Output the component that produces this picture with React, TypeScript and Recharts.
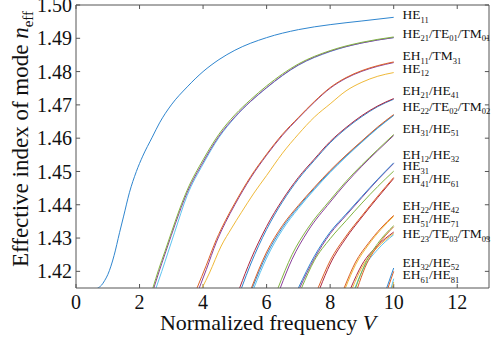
import React from 'react';
import { LineChart, Line, XAxis, YAxis, ReferenceLine, ReferenceDot } from 'recharts';

type Pt = [number, number];

// mode curves: [V, n_eff]
const he11: Pt[] = [[0.68, 1.415], [0.8, 1.4158], [0.9, 1.4172], [1.0, 1.419], [1.2, 1.4248], [1.37, 1.4316], [1.5, 1.4366], [1.68, 1.4436], [1.9, 1.45], [2.1, 1.4546], [2.4, 1.4603], [2.63, 1.4646], [3.0, 1.47], [3.5, 1.4754], [4.0, 1.48], [4.5, 1.4836], [5.0, 1.4864], [6.0, 1.4902], [7.0, 1.4926], [8.0, 1.4941], [9.0, 1.4952], [10.0, 1.4963]];
const he21: Pt[] = [[2.42, 1.415], [2.6, 1.4205], [2.8, 1.426], [3.0, 1.4316], [3.25, 1.4384], [3.5, 1.4444], [4.0, 1.4535], [4.5, 1.4612], [5.0, 1.467], [5.5, 1.4716], [6.0, 1.4757], [7.0, 1.4823], [8.0, 1.4863], [9.0, 1.4888], [10.0, 1.4904]];
const te01: Pt[] = [[2.45, 1.415], [2.6, 1.4195], [2.8, 1.4252], [3.0, 1.4308], [3.25, 1.4376], [3.5, 1.4437], [4.0, 1.4528], [4.5, 1.4606], [5.0, 1.4664], [5.5, 1.4711], [6.0, 1.4752], [7.0, 1.482], [8.0, 1.4861], [9.0, 1.4886], [10.0, 1.4902]];
const tm01: Pt[] = [[2.52, 1.415], [2.7, 1.42], [2.9, 1.4258], [3.1, 1.4316], [3.5, 1.4428], [4.0, 1.4522], [4.5, 1.4602], [5.0, 1.4662], [6.0, 1.4751], [7.0, 1.4819], [8.0, 1.486], [9.0, 1.4886], [10.0, 1.4902]];
const eh11: Pt[] = [[3.81, 1.415], [4.1, 1.4218], [4.42, 1.4296], [4.7, 1.4352], [5.0, 1.4405], [5.5, 1.4485], [6.0, 1.4552], [6.5, 1.4612], [7.0, 1.4662], [7.5, 1.471], [8.0, 1.4752], [8.5, 1.4782], [9.0, 1.4803], [9.5, 1.4818], [10.0, 1.4829]];
const tm31: Pt[] = [[3.88, 1.415], [4.1, 1.4205], [4.42, 1.4288], [4.7, 1.4346], [5.0, 1.44], [5.5, 1.4481], [6.0, 1.4549], [6.5, 1.4609], [7.0, 1.466], [7.5, 1.4708], [8.0, 1.475], [8.5, 1.478], [9.0, 1.4801], [9.5, 1.4816], [10.0, 1.4827]];
const he12: Pt[] = [[3.97, 1.415], [4.2, 1.4195], [4.57, 1.4276], [4.9, 1.433], [5.2, 1.4376], [5.6, 1.4435], [6.0, 1.4488], [6.5, 1.4555], [7.0, 1.4612], [7.5, 1.4663], [8.0, 1.4703], [8.5, 1.4742], [9.0, 1.4768], [9.5, 1.4786], [10.0, 1.4797]];
const eh21: Pt[] = [[5.15, 1.415], [5.5, 1.4235], [6.0, 1.4335], [6.5, 1.4415], [7.0, 1.4482], [7.5, 1.4537], [8.0, 1.459], [8.5, 1.4632], [9.0, 1.4668], [9.5, 1.4697], [10.0, 1.4719]];
const he41: Pt[] = [[5.21, 1.415], [5.5, 1.4222], [6.0, 1.4326], [6.5, 1.4409], [7.0, 1.4477], [7.5, 1.4533], [8.0, 1.4586], [8.5, 1.4629], [9.0, 1.4665], [9.5, 1.4695], [10.0, 1.4717]];
const he22: Pt[] = [[5.52, 1.415], [6.0, 1.4258], [6.5, 1.4338], [7.0, 1.4398], [7.5, 1.4452], [8.0, 1.4503], [8.5, 1.4549], [9.0, 1.4592], [9.5, 1.4634], [10.0, 1.4671]];
const te02: Pt[] = [[5.55, 1.415], [6.0, 1.425], [6.5, 1.4332], [7.0, 1.4394], [7.5, 1.4449], [8.0, 1.45], [8.5, 1.4547], [9.0, 1.459], [9.5, 1.4632], [10.0, 1.4669]];
const tm02: Pt[] = [[5.6, 1.415], [6.0, 1.424], [6.5, 1.4325], [7.0, 1.4389], [7.5, 1.4445], [8.0, 1.4497], [8.5, 1.4544], [9.0, 1.4588], [9.5, 1.463], [10.0, 1.4668]];
const eh31: Pt[] = [[6.36, 1.415], [6.8, 1.425], [7.3, 1.433], [8.0, 1.4414], [8.5, 1.447], [9.0, 1.452], [9.5, 1.4566], [10.0, 1.4611]];
const he51: Pt[] = [[6.43, 1.415], [6.8, 1.4236], [7.3, 1.4321], [8.0, 1.4408], [8.5, 1.4465], [9.0, 1.4516], [9.5, 1.4563], [10.0, 1.4608]];
const eh12: Pt[] = [[7.0, 1.415], [7.5, 1.4245], [8.0, 1.4318], [8.5, 1.4372], [9.0, 1.4425], [9.5, 1.4477], [10.0, 1.4526]];
const he32: Pt[] = [[7.04, 1.415], [7.5, 1.4238], [8.0, 1.4313], [8.5, 1.4368], [9.0, 1.4422], [9.5, 1.4475], [10.0, 1.4524]];
const he31: Pt[] = [[7.1, 1.415], [7.5, 1.4232], [8.0, 1.4298], [8.5, 1.4352], [9.0, 1.4405], [9.5, 1.4455], [10.0, 1.4501]];
const eh41: Pt[] = [[7.62, 1.415], [8.0, 1.4232], [8.5, 1.4306], [9.0, 1.4367], [9.5, 1.4426], [10.0, 1.4482]];
const he61: Pt[] = [[7.68, 1.415], [8.0, 1.4222], [8.5, 1.43], [9.0, 1.4363], [9.5, 1.4422], [10.0, 1.4479]];
const eh22: Pt[] = [[8.44, 1.415], [8.8, 1.4228], [9.2, 1.4284], [9.6, 1.433], [10.0, 1.4368]];
const he42: Pt[] = [[8.48, 1.415], [8.8, 1.422], [9.2, 1.4279], [9.6, 1.4326], [10.0, 1.4365]];
const he23: Pt[] = [[8.65, 1.415], [9.0, 1.422], [9.5, 1.4278], [10.0, 1.4318]];
const te03: Pt[] = [[8.7, 1.415], [9.0, 1.4212], [9.5, 1.4273], [10.0, 1.4314]];
const tm03: Pt[] = [[8.78, 1.415], [9.0, 1.42], [9.5, 1.4266], [10.0, 1.431]];
const eh51: Pt[] = [[8.8, 1.415], [9.1, 1.4222], [9.5, 1.4284], [10.0, 1.4337]];
const he71: Pt[] = [[8.86, 1.415], [9.1, 1.4212], [9.5, 1.4278], [10.0, 1.4334]];
const eh32: Pt[] = [[9.78, 1.415], [10.0, 1.421]];
const he52: Pt[] = [[9.82, 1.415], [10.0, 1.42]];
const eh61: Pt[] = [[9.92, 1.415], [10.0, 1.4178]];
const he81: Pt[] = [[9.95, 1.415], [10.0, 1.4168]];

const curves: { id: string; pts: Pt[] }[] = [
  { id: 'HE11', pts: he11 },
  { id: 'TM01', pts: tm01 }, { id: 'TE01', pts: te01 }, { id: 'HE21', pts: he21 },
  { id: 'TM31', pts: tm31 }, { id: 'EH11', pts: eh11 }, { id: 'HE12', pts: he12 },
  { id: 'HE41', pts: he41 }, { id: 'EH21', pts: eh21 },
  { id: 'TM02', pts: tm02 }, { id: 'TE02', pts: te02 }, { id: 'HE22', pts: he22 },
  { id: 'HE51', pts: he51 }, { id: 'EH31', pts: eh31 },
  { id: 'HE32', pts: he32 }, { id: 'EH12', pts: eh12 }, { id: 'HE31', pts: he31 },
  { id: 'HE61', pts: he61 }, { id: 'EH41', pts: eh41 },
  { id: 'HE42', pts: he42 }, { id: 'EH22', pts: eh22 },
  { id: 'TM03', pts: tm03 }, { id: 'TE03', pts: te03 }, { id: 'HE23', pts: he23 },
  { id: 'HE71', pts: he71 }, { id: 'EH51', pts: eh51 },
  { id: 'HE52', pts: he52 }, { id: 'EH32', pts: eh32 },
  { id: 'HE81', pts: he81 }, { id: 'EH61', pts: eh61 },
];

const lineColor: Record<string, string> = {
  HE11: '#2F86CF',
  HE21: '#82B440', TE01: '#8A3F9A', TM01: '#5EC4F0',
  EH11: '#DC6128', TM31: '#8A3F9A', HE12: '#EFB939',
  EH21: '#AD2840', HE41: '#2F86CF',
  HE22: '#DC6128', TE02: '#2F86CF', TM02: '#5EC4F0',
  EH31: '#82B440', HE51: '#8A3F9A',
  EH12: '#2F86CF', HE32: '#8A3F9A', HE31: '#82B440',
  EH41: '#DC6128', HE61: '#AD2840',
  EH22: '#DC6128', HE42: '#EFB939',
  HE23: '#AD2840', TE03: '#EFB939', TM03: '#5EC4F0',
  EH51: '#82B440', HE71: '#DC6128',
  EH32: '#2F86CF', HE52: '#DC6128',
  EH61: '#5EC4F0', HE81: '#EFB939',
};

const xTicks = [0, 2, 4, 6, 8, 10, 12];
const yTicks = [1.42, 1.43, 1.44, 1.45, 1.46, 1.47, 1.48, 1.49, 1.5];

// mode group labels: [text, subscript] pieces
const labelParts: [string, string][][] = [
  [['HE', '11']],
  [['HE', '21'], ['/TE', '01'], ['/TM', '01']],
  [['EH', '11'], ['/TM', '31']],
  [['HE', '12']],
  [['EH', '21'], ['/HE', '41']],
  [['HE', '22'], ['/TE', '02'], ['/TM', '02']],
  [['EH', '31'], ['/HE', '51']],
  [['EH', '12'], ['/HE', '32']],
  [['HE', '31']],
  [['EH', '41'], ['/HE', '61']],
  [['EH', '22'], ['/HE', '42']],
  [['EH', '51'], ['/HE', '71']],
  [['HE', '23'], ['/TE', '03'], ['/TM', '03']],
  [['EH', '32'], ['/HE', '52']],
  [['EH', '61'], ['/HE', '81']],
];
const labelV = 10.28;
const labelN = [1.4972, 1.4916, 1.4849, 1.4811, 1.4746, 1.4697, 1.4631, 1.4553, 1.4519, 1.4479, 1.44, 1.436, 1.4315, 1.4229, 1.4192];

const serif = 'Liberation Serif, serif';
const axisColor = '#555';

function ModeLabel({ cx, cy, parts }: { cx: number; cy: number; parts: [string, string][] }) {
  return (
    <text x={cx} y={cy + 5} fontFamily={serif} fontSize={13.5} fill="#111">
      {parts.map(([a, s], i) => (
        <React.Fragment key={i}>
          <tspan dy={i ? -3.5 : 0}>{a}</tspan>
          <tspan fontSize={8.5} dy={3.5}>{s}</tspan>
        </React.Fragment>
      ))}
    </text>
  );
}

export default function App() {
  return (
    <div style={{ position: 'absolute', left: 0, top: 0, width: 500, height: 338, background: '#fff' }}>
      <LineChart width={500} height={338} margin={{ top: 5, right: 11, bottom: 0, left: 0 }}>
        <XAxis type="number" dataKey="v" domain={[0, 13]} ticks={xTicks} interval={0} allowDataOverflow
          tickLine={false} tickSize={0} tickMargin={7} height={50}
          axisLine={{ stroke: axisColor }} tick={{ fontFamily: serif, fontSize: 20, fill: '#111' }} />
        <YAxis type="number" domain={[1.415, 1.5]} ticks={yTicks} interval={0} allowDataOverflow width={76}
          tickFormatter={(v: number) => v.toFixed(2)}
          tickLine={false} tickSize={0} tickMargin={4}
          axisLine={{ stroke: axisColor }} tick={{ fontFamily: serif, fontSize: 20, fill: '#111' }} />
        <ReferenceLine y={1.5} stroke={axisColor} />
        <ReferenceLine x={13} stroke={axisColor} />
        {xTicks.map(t => (
          <ReferenceLine key={'xb' + t} stroke={axisColor} segment={[{ x: t, y: 1.415 }, { x: t, y: 1.4162 }]} />
        ))}
        {xTicks.map(t => (
          <ReferenceLine key={'xt' + t} stroke={axisColor} segment={[{ x: t, y: 1.5 }, { x: t, y: 1.4988 }]} />
        ))}
        {yTicks.map(t => (
          <ReferenceLine key={'yl' + t} stroke={axisColor} segment={[{ x: 0, y: t }, { x: 0.13, y: t }]} />
        ))}
        {yTicks.map(t => (
          <ReferenceLine key={'yr' + t} stroke={axisColor} segment={[{ x: 13, y: t }, { x: 12.87, y: t }]} />
        ))}
        {curves.map(c => (
          <Line key={c.id} data={c.pts.map(([v, n]) => ({ v, n }))} dataKey="n" type="monotone"
            stroke={lineColor[c.id]} strokeWidth={1} dot={false} activeDot={false} isAnimationActive={false} />
        ))}
        {labelParts.map((parts, i) => (
          <ReferenceDot key={'lb' + i} x={labelV} y={labelN[i]} r={0}
            shape={(p: any) => <ModeLabel cx={p.cx} cy={p.cy} parts={parts} />} />
        ))}
      </LineChart>
      <svg width={500} height={338} style={{ position: 'absolute', left: 0, top: 0, pointerEvents: 'none' }}>
        <text x={268} y={330} textAnchor="middle" fontFamily={serif} fontSize={22} fill="#111">
          Normalized frequency <tspan fontStyle="italic">V</tspan>
        </text>
        <text transform="translate(28,139) rotate(-90)" textAnchor="middle" fontFamily={serif} fontSize={23} fill="#111">
          Effective index of mode <tspan fontStyle="italic">n</tspan>
          <tspan fontSize={15} dy={5}>eff</tspan>
        </text>
      </svg>
    </div>
  );
}
